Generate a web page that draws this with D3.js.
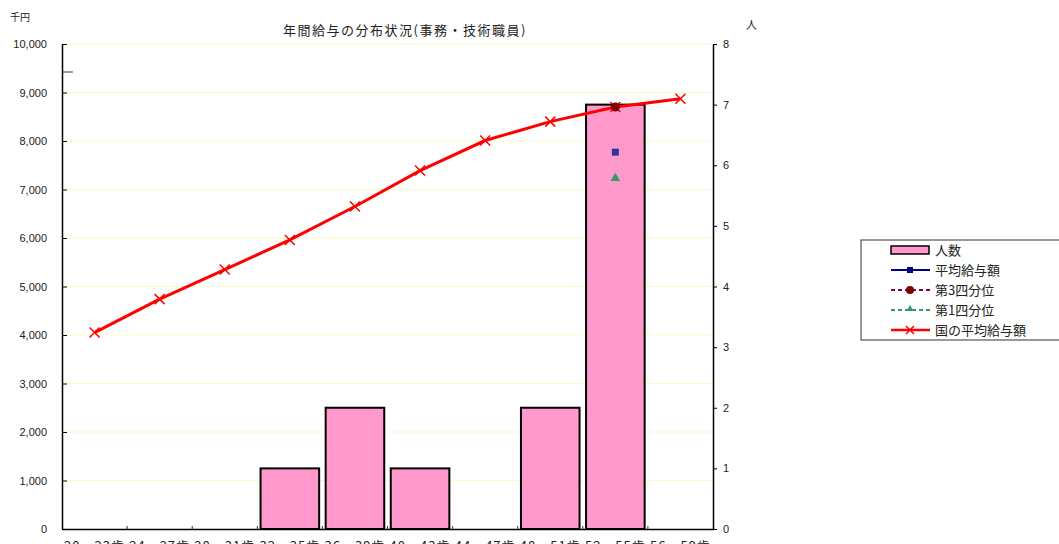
<!DOCTYPE html>
<html>
<head>
<meta charset="utf-8">
<script src="https://cdn.jsdelivr.net/npm/d3@7"></script>
<style>
  body { margin: 0; background: #fff; }
  text { font-family: "Noto Sans CJK JP", "DejaVu Sans", sans-serif; fill: #222; }
</style>
</head>
<body>
<script>
// 年齢階層
var ages = ["20～23歳", "24～27歳", "28～31歳", "32～35歳", "36～39歳",
            "40～43歳", "44～47歳", "48～51歳", "52～55歳", "56～59歳"];
// 人数
var counts = [0, 0, 0, 1, 2, 1, 0, 2, 7, 0];
// 国の平均給与額 (千円)
var national = [4050, 4740, 5350, 5960, 6650, 7390, 8010, 8400, 8700, 8870];
// 52～55歳のみ
var avgPay = [null, null, null, null, null, null, null, null, 7770, null];
var q3 = [null, null, null, null, null, null, null, null, 8700, null];
var q1 = [null, null, null, null, null, null, null, null, 7230, null];
var leftTicks = [0, 1000, 2000, 3000, 4000, 5000, 6000, 7000, 8000, 9000, 10000];
var rightTicks = [0, 1, 2, 3, 4, 5, 6, 7, 8];

(function () {
  var W = 1059, H = 544;
  var pL = 62, pR = 713, pT = 44, pB = 529;

  var svg = d3.select("body").append("svg")
      .attr("width", W).attr("height", H);

  var x = d3.scaleBand().domain(ages).range([pL, pR])
      .paddingInner(0.1).paddingOuter(0.05);
  var xc = d3.scaleBand().domain(ages).range([pL, pR]);
  var yL = d3.scaleLinear().domain([0, 10000]).range([pB, pT]);
  var yR = d3.scaleLinear().domain([0, 8]).range([pB, pT]);

  // grid lines
  svg.append("g").selectAll("line").data(leftTicks.slice(1)).enter().append("line")
      .attr("x1", pL).attr("x2", pR)
      .attr("y1", function (d) { return yL(d); }).attr("y2", function (d) { return yL(d); })
      .style("stroke", "#fbfbc8").style("stroke-width", 1);

  // bars
  svg.append("g").selectAll("rect")
      .data(ages.map(function (a, i) { return { age: a, n: counts[i] }; }).filter(function (d) { return d.n > 0; }))
      .enter().append("rect")
      .attr("x", function (d) { return x(d.age); })
      .attr("width", x.bandwidth())
      .attr("y", function (d) { return yR(d.n); })
      .attr("height", function (d) { return pB - yR(d.n); })
      .style("fill", "#ff99cc").style("stroke", "#000").style("stroke-width", 2);

  // left axis
  var axL = svg.append("g").attr("transform", "translate(" + pL + ",0)")
      .call(d3.axisLeft(yL).tickValues(leftTicks).tickSizeInner(-5).tickSizeOuter(0)
          .tickPadding(15).tickFormat(d3.format(",")));
  axL.select(".domain").style("stroke", "#000").style("stroke-width", 1.5);
  axL.selectAll("text").style("font-size", "11px").style("font-family", "'Liberation Sans', sans-serif");
  svg.append("line").attr("x1", pL).attr("x2", pL + 11).attr("y1", 72).attr("y2", 72)
      .style("stroke", "#333");

  // right axis
  var axR = svg.append("g").attr("transform", "translate(" + pR + ",0)")
      .call(d3.axisRight(yR).tickValues(rightTicks).tickSizeInner(4).tickSizeOuter(0).tickPadding(6));
  axR.select(".domain").style("stroke", "#000").style("stroke-width", 1.5);
  axR.selectAll("text").style("font-size", "11px").style("font-family", "'Liberation Sans', sans-serif");

  // bottom axis
  var axB = svg.append("g").attr("transform", "translate(0," + pB + ")")
      .call(d3.axisBottom(xc).tickSize(0).tickPadding(10));
  axB.select(".domain").style("stroke", "#000").style("stroke-width", 1.5);
  axB.selectAll("text").style("font-size", "13px").attr("dy", "0.95em")
      .style("letter-spacing", "1px");
  svg.append("g").selectAll("line").data(ages.slice(1)).enter().append("line")
      .attr("x1", function (d) { return xc(d); }).attr("x2", function (d) { return xc(d); })
      .attr("y1", pB).attr("y2", pB - 3).style("stroke", "#333");

  // national average line
  var cx = function (i) { return xc(ages[i]) + xc.bandwidth() / 2; };
  var line = d3.line().x(function (d, i) { return cx(i); }).y(function (d) { return yL(d); });
  svg.append("path").datum(national).attr("d", line)
      .style("fill", "none").style("stroke", "#ff0000").style("stroke-width", 3);
  svg.append("g").selectAll("path").data(national).enter().append("path")
      .attr("transform", function (d, i) { return "translate(" + cx(i) + "," + yL(d) + ")"; })
      .attr("d", "M-5,-5L5,5M-5,5L5,-5")
      .style("stroke", "#ff0000").style("stroke-width", 1.5);

  // markers
  function pts(arr) {
    return arr.map(function (v, i) { return { i: i, v: v }; }).filter(function (d) { return d.v != null; });
  }
  svg.append("g").selectAll("rect").data(pts(avgPay)).enter().append("rect")
      .attr("x", function (d) { return cx(d.i) - 3.5; }).attr("y", function (d) { return yL(d.v) - 3.5; })
      .attr("width", 7).attr("height", 7).style("fill", "#333399");
  svg.append("g").selectAll("path").data(pts(q1)).enter().append("path")
      .attr("transform", function (d) { return "translate(" + cx(d.i) + "," + yL(d.v) + ")"; })
      .attr("d", d3.symbol(d3.symbolTriangle, 40)).style("fill", "#339966");
  svg.append("g").selectAll("circle").data(pts(q3)).enter().append("circle")
      .attr("cx", function (d) { return cx(d.i); }).attr("cy", function (d) { return yL(d.v); })
      .attr("r", 4.5).style("fill", "#800000");

  // titles
  svg.append("text").attr("x", 405).attr("y", 35).attr("text-anchor", "middle")
      .style("font-size", "13px").style("letter-spacing", "1.5px")
      .text("年間給与の分布状況(事務・技術職員)");
  svg.append("text").attr("x", 10).attr("y", 21).style("font-size", "10px").text("千円");
  svg.append("text").attr("x", 746).attr("y", 29).style("font-size", "11px").text("人");

  // legend
  var lg = svg.append("g").attr("transform", "translate(861,240)");
  lg.append("rect").attr("x", 0).attr("y", 0).attr("width", 205).attr("height", 100)
      .style("fill", "#fff").style("stroke", "#333");
  var items = [
    { name: "人数", type: "bar" },
    { name: "平均給与額", color: "#000080", dash: null, mark: "square" },
    { name: "第3四分位", color: "#800040", dash: "4,3", mark: "circle", mcolor: "#800000" },
    { name: "第1四分位", color: "#339966", dash: "4,3", mark: "triangle" },
    { name: "国の平均給与額", color: "#ff0000", dash: null, mark: "x" }
  ];
  items.forEach(function (d, i) {
    var yy = 10 + i * 20;
    var g = lg.append("g").attr("transform", "translate(0," + yy + ")");
    if (d.type === "bar") {
      g.append("rect").attr("x", 30).attr("y", -4).attr("width", 38).attr("height", 8)
          .style("fill", "#ff99cc").style("stroke", "#000").style("stroke-width", 1.5);
    } else {
      g.append("line").attr("x1", 30).attr("x2", 69).attr("y1", 0).attr("y2", 0)
          .style("stroke", d.color).style("stroke-width", d.mark === "x" ? 2.5 : 2)
          .style("stroke-dasharray", d.dash);
      if (d.mark === "square") g.append("rect").attr("x", 46).attr("y", -3).attr("width", 6).attr("height", 6).style("fill", d.color);
      if (d.mark === "circle") g.append("circle").attr("cx", 49).attr("cy", 0).attr("r", 4).style("fill", d.mcolor);
      if (d.mark === "triangle") g.append("path").attr("transform", "translate(49,-1)").attr("d", d3.symbol(d3.symbolTriangle, 20)).style("fill", d.color);
      if (d.mark === "x") g.append("path").attr("transform", "translate(49,0)").attr("d", "M-4,-4L4,4M-4,4L4,-4").style("stroke", d.color).style("stroke-width", 1.5);
    }
    g.append("text").attr("x", 74).attr("y", 5).style("font-size", "13px").text(d.name);
  });
})();
</script>
</body>
</html>
